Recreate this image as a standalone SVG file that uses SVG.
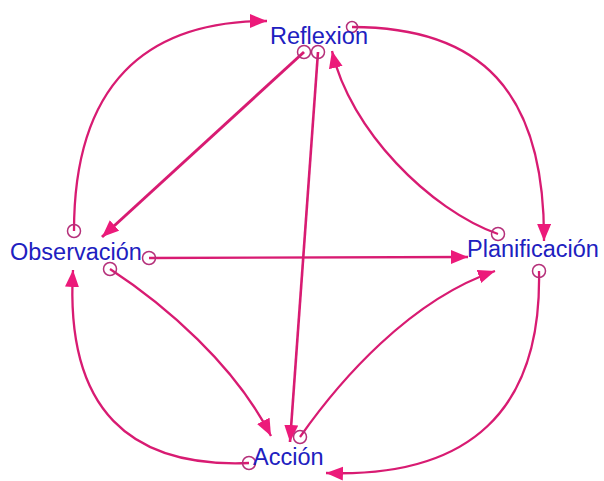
<svg xmlns="http://www.w3.org/2000/svg" width="604" height="481" viewBox="0 0 604 481">
<style>
.lbl{font-family:"Liberation Sans",Arial,sans-serif;font-size:23.5px;fill:#2020c0}
.c{fill:none;stroke:#d81b72;stroke-width:2.3;marker-end:url(#ah)}
.src{fill:none;stroke:#b5307a;stroke-width:1.5}
</style>
<defs>
<marker id="ah" markerUnits="userSpaceOnUse" markerWidth="19" markerHeight="15" refX="17" refY="7" orient="auto">
<path d="M0,0 L17,7 L0,14 Z" fill="#ec1a7a"/>
</marker>
</defs>
<rect width="604" height="481" fill="#ffffff"/>
<g id="connectors">
<path class="c" d="M74,231 C74,85 145,21 267,21"/>
<path class="c" d="M352,27 C480,27 545,90 544,241"/>
<path class="c" d="M498,234 C430,210 350,130 332,51"/>
<path class="c" style="stroke-width:3" d="M304,52 L102,237"/>
<path class="c" style="stroke-width:2.6" d="M318,52 L290,442"/>
<path class="c" d="M149,258 L468,257"/>
<path class="c" d="M110,269 C165,305 235,365 271,436"/>
<path class="c" d="M249,463 C130,468 65,410 73,270"/>
<path class="c" d="M300,437 C340,380 410,300 495,271"/>
<path class="c" d="M539,271 C542,410 470,478 326,473"/>
<circle class="src" cx="74" cy="231" r="6.5"/>
<circle class="src" cx="304" cy="52" r="6.5"/>
<circle class="src" cx="318" cy="52" r="6.5"/>
<circle class="src" cx="352" cy="27" r="5.5"/>
<circle class="src" cx="498" cy="234" r="6.5"/>
<circle class="src" cx="539" cy="271" r="6.5"/>
<circle class="src" cx="149" cy="258" r="6.5"/>
<circle class="src" cx="110" cy="269" r="6.5"/>
<circle class="src" cx="249" cy="463" r="6.5"/>
<circle class="src" cx="300" cy="437" r="6.5"/>
</g>
<g id="reflexion"><text class="lbl" x="270" y="44">Reflexion</text></g>
<g id="observacion"><text class="lbl" x="10" y="260">Observación</text></g>
<g id="planificacion"><text class="lbl" x="467" y="257">Planificación</text></g>
<g id="accion"><text class="lbl" x="253" y="465">Acción</text></g>
</svg>
